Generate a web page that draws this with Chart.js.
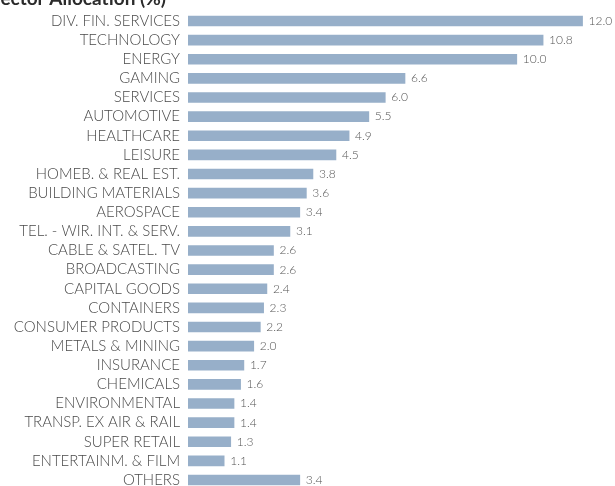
<!DOCTYPE html>
<html>
<head>
<meta charset="utf-8">
<script src="https://cdn.jsdelivr.net/npm/chart.js@4"></script>
<style>
  html, body { margin: 0; padding: 0; background: #fff; overflow: hidden; }
  #wrap { position: relative; width: 615px; height: 500px; }
</style>
</head>
<body>
<div id="wrap"><canvas id="sectorChart"></canvas></div>
<script>
// DATA
const sectors = [
    'DIV. FIN. SERVICES', 'TECHNOLOGY', 'ENERGY', 'GAMING', 'SERVICES',
    'AUTOMOTIVE', 'HEALTHCARE', 'LEISURE', 'HOMEB. & REAL EST.', 'BUILDING MATERIALS',
    'AEROSPACE', 'TEL. - WIR. INT. & SERV.', 'CABLE & SATEL. TV', 'BROADCASTING', 'CAPITAL GOODS',
    'CONTAINERS', 'CONSUMER PRODUCTS', 'METALS & MINING', 'INSURANCE', 'CHEMICALS',
    'ENVIRONMENTAL', 'TRANSP. EX AIR & RAIL', 'SUPER RETAIL', 'ENTERTAINM. & FILM', 'OTHERS'
]
const allocation = [
    12.0, 10.8, 10.0, 6.6, 6.0,
    5.5, 4.9, 4.5, 3.8, 3.6,
    3.4, 3.1, 2.6, 2.6, 2.4,
    2.3, 2.2, 2.0, 1.7, 1.6,
    1.4, 1.4, 1.3, 1.1, 3.4
]
const chartTitle = 'Sector Allocation (%)'


// TITLE (cut off at top of the frame, like the source)
const titlePlugin = {
    id: 'cutTitle',
    afterDraw(chart) {
        const ctx = chart.ctx
        ctx.save()
        ctx.font = 'bold 19px Lato'
        ctx.fillStyle = '#2b2b2b'
        ctx.textAlign = 'right'
        ctx.textBaseline = 'alphabetic'
        ctx.fillText(chartTitle, 166, 5)
        ctx.restore()
    }
}

// VALUE LABELS
const valuePlugin = {
    id: 'barValues',
    afterDatasetsDraw(chart) {
        const ctx = chart.ctx
        const meta = chart.getDatasetMeta(0)
        ctx.save()
        ctx.font = '300 12px Lato'
        ctx.fillStyle = '#555'
        ctx.textAlign = 'left'
        ctx.textBaseline = 'middle'
        meta.data.forEach((bar, i) => {
            ctx.fillText(allocation[i].toFixed(1), bar.x + 6, bar.y)
        })
        ctx.restore()
    }
}

const sectorCTX = document.getElementById('sectorChart').getContext('2d')
const sectorChart = new Chart(sectorCTX, {
    type: 'bar',
    data: {
        labels: sectors,
        datasets: [{
            data: allocation,
            backgroundColor: '#97afc9',
            barThickness: 10
        }]
    },
    options: {
        indexAxis: 'y',
        responsive: true,
        maintainAspectRatio: false,
        animation: false,
        layout: {
            padding: { top: 11.4, bottom: 10.4, left: 0, right: 16 }
        },
        plugins: {
            legend: { display: false },
            tooltip: { enabled: false },
            title: { display: false }
        },
        scales: {
            x: {
                display: false,
                min: 0,
                max: 12.5
            },
            y: {
                grid: { display: false, drawTicks: false },
                border: { display: false },
                ticks: {
                    color: '#4a4a4a',
                    padding: 8,
                    autoSkip: false,
                    font: { family: 'Lato', size: 15, weight: 300 }
                },
                afterFit(scale) {
                    // fixed axis width, no extra label padding top/bottom
                    scale.width = 188
                    scale.paddingTop = 0
                    scale.paddingBottom = 0
                }
            }
        }
    },
    plugins: [titlePlugin, valuePlugin]
})
</script>
</body>
</html>
